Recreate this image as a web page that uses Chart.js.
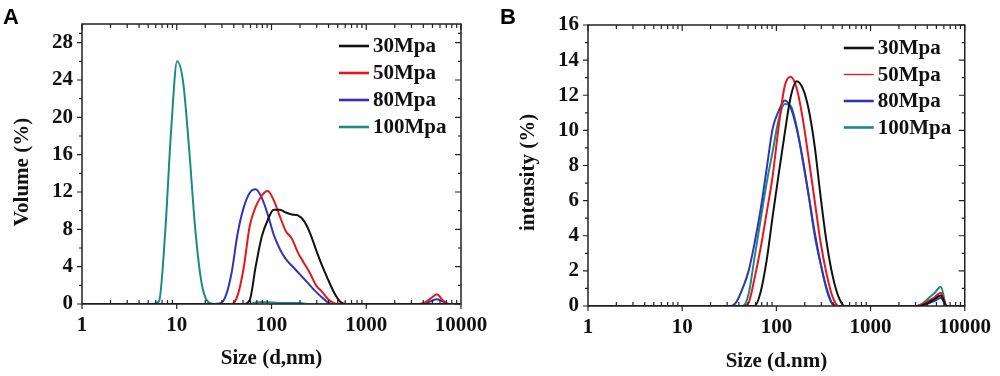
<!DOCTYPE html>
<html>
<head>
<meta charset="utf-8">
<script src="https://cdn.jsdelivr.net/npm/chart.js@4.4.0/dist/chart.umd.min.js"></script>
<style>
  html, body { margin: 0; padding: 0; background: #fff; }
  #wrap { position: relative; width: 1000px; height: 376px; background: #fff; }
  #wrap canvas { position: absolute; top: 0; }
  .etiqueta { position: absolute; top: 4px; font: bold 22px "Liberation Sans", Arial, sans-serif; color: #000; line-height: normal; }
</style>
</head>
<body>
<div id="wrap">
  <canvas id="panelA" width="500" height="376" style="left:0"></canvas>
  <canvas id="panelB" width="500" height="376" style="left:500px"></canvas>
  <div class="etiqueta" style="left:3px">A</div>
  <div class="etiqueta" style="left:500px">B</div>
</div>
<script>
// Canales de tamaño (d, nm) del equipo DLS
const sizes = [
  0.9649, 1.117, 1.294, 1.499, 1.736, 2.01, 2.328, 2.696, 3.122, 3.615,
  4.187, 4.849, 5.615, 6.503, 7.531, 8.721, 10.1, 11.7, 13.54, 15.69,
  18.17, 21.04, 24.36, 28.21, 32.67, 37.84, 43.82, 50.75, 58.77, 68.06,
  78.82, 91.28, 105.7, 122.4, 141.8, 164.2, 190.1, 220.2, 255.0, 295.3,
  342.0, 396.1, 458.7, 531.2, 615.1, 712.4, 825.0, 955.4, 1106, 1281,
  1484, 1718, 1990, 2305, 2669, 3091, 3580, 4145, 4801, 5560,
  6439, 7456, 8635, 10000
];

const seriesLabels = ['30Mpa', '50Mpa', '80Mpa', '100Mpa'];
const seriesColors = ['#111111', '#e8161b', '#3333b6', '#1b8b7f'];

// Panel A: volumen (%)
const volume30 = [
  0, 0, 0, 0, 0, 0, 0, 0, 0, 0,
  0, 0, 0, 0, 0, 0, 0, 0, 0, 0,
  0, 0, 0, 0, 0, 0, 0, 0, 0.4, 4.0,
  7.2, 9.0, 10.1, 10.1, 9.8, 9.6, 9.5, 8.9, 7.6, 5.8,
  4.1, 2.6, 1.2, 0.25, 0, 0, 0, 0, 0, 0,
  0, 0, 0, 0, 0, 0, 0, 0, 0, 0,
  0, 0, 0, 0
];
const volume50 = [
  0, 0, 0, 0, 0, 0, 0, 0, 0, 0,
  0, 0, 0, 0, 0, 0, 0, 0, 0, 0,
  0, 0, 0, 0, 0, 0, 0.9, 3.8, 8.3, 10.4,
  11.6, 12.1, 11.1, 9.4, 7.8, 7.0, 5.5, 4.4, 3.3, 2.0,
  1.3, 0.5, 0.1, 0, 0, 0, 0, 0, 0, 0,
  0, 0, 0, 0, 0, 0, 0, 0.15, 0.6, 1.05,
  0.4, 0, 0, 0
];
const volume80 = [
  0, 0, 0, 0, 0, 0, 0, 0, 0, 0,
  0, 0, 0, 0, 0, 0, 0, 0, 0, 0,
  0, 0, 0, 0.05, 0.8, 3.3, 7.5, 10.3, 11.9, 12.3,
  11.4, 9.6, 7.4, 5.9, 4.8, 4.1, 3.4, 2.7, 2.0, 1.3,
  0.7, 0.15, 0, 0, 0, 0, 0, 0, 0, 0,
  0, 0, 0, 0, 0, 0, 0, 0.05, 0.3, 0.5,
  0.25, 0, 0, 0
];
const volume100 = [
  0, 0, 0, 0, 0, 0, 0, 0, 0, 0,
  0, 0, 0, 0.3, 7.5, 18.6, 26.0, 23.7, 16.5, 8.0,
  2.4, 0.3, 0, 0, 0, 0, 0, 0, 0, 0.15,
  0.2, 0.2, 0.15, 0.1, 0.1, 0.1, 0.1, 0.05, 0, 0,
  0, 0, 0, 0, 0, 0, 0, 0, 0, 0,
  0, 0, 0, 0, 0, 0, 0, 0, 0, 0,
  0, 0, 0, 0
];

// Panel B: intensidad (%)
const intensity30 = [
  0, 0, 0, 0, 0, 0, 0, 0, 0, 0,
  0, 0, 0, 0, 0, 0, 0, 0, 0, 0,
  0, 0, 0, 0, 0, 0, 0, 0, 0, 0.8,
  2.6, 5.1, 7.5, 9.8, 11.9, 12.8, 12.4, 11.2, 9.1, 6.2,
  3.6, 1.7, 0.5, 0, 0, 0, 0, 0, 0, 0,
  0, 0, 0, 0, 0, 0, 0.05, 0.2, 0.4, 0.6,
  0, 0, 0, 0
];
const intensity50 = [
  0, 0, 0, 0, 0, 0, 0, 0, 0, 0,
  0, 0, 0, 0, 0, 0, 0, 0, 0, 0,
  0, 0, 0, 0, 0, 0, 0, 0.2, 1.6, 3.3,
  5.3, 7.4, 10.2, 12.5, 13.05, 12.4, 10.7, 8.4, 6.0, 3.6,
  1.8, 0.5, 0, 0, 0, 0, 0, 0, 0, 0,
  0, 0, 0, 0, 0, 0, 0.1, 0.3, 0.5, 0.75,
  0, 0, 0, 0
];
const intensity80 = [
  0, 0, 0, 0, 0, 0, 0, 0, 0, 0,
  0, 0, 0, 0, 0, 0, 0, 0, 0, 0,
  0, 0, 0, 0, 0, 0.25, 1.0, 2.0, 3.6, 5.5,
  7.8, 10.1, 11.1, 11.7, 11.3, 10.1, 8.4, 6.3, 4.2, 2.4,
  1.0, 0.1, 0, 0, 0, 0, 0, 0, 0, 0,
  0, 0, 0, 0, 0, 0, 0.05, 0.15, 0.3, 0.45,
  0, 0, 0, 0
];
const intensity100 = [
  0, 0, 0, 0, 0, 0, 0, 0, 0, 0,
  0, 0, 0, 0, 0, 0, 0, 0, 0, 0,
  0, 0, 0, 0, 0, 0, 0, 0.7, 2.8, 4.9,
  7.0, 8.8, 10.6, 11.5, 11.4, 10.2, 8.3, 6.3, 4.0, 2.4,
  0.9, 0.1, 0, 0, 0, 0, 0, 0, 0, 0,
  0, 0, 0, 0, 0, 0, 0.15, 0.45, 0.75, 1.1,
  0, 0, 0, 0
];

// Marcas de los ejes
const xTickValues = [1, 10, 100, 1000, 10000];
const yTicksVolume = [0, 4, 8, 12, 16, 20, 24, 28];
const yTicksIntensity = [0, 2, 4, 6, 8, 10, 12, 14, 16];

const FUENTE = '"Liberation Serif", "Times New Roman", serif';
const COLOR_TEXTO = '#111';
const TAM_FUENTE = 21;

// =============================================================
//      Plugin: marco cerrado con marcas mayores y menores
// =============================================================
const marcoEjes = {
  id: 'marcoEjes',
  afterDatasetsDraw(chart) {
    const { ctx, chartArea: a, scales: { x, y } } = chart;
    const yTicks = y.ticks.map(t => t.value);
    ctx.save();
    ctx.strokeStyle = '#222';
    ctx.lineWidth = 1.5;
    ctx.strokeRect(a.left, a.top, a.right - a.left, a.bottom - a.top);

    ctx.lineWidth = 1.2;
    ctx.beginPath();
    // eje Y: mayores y menores (punto medio)
    yTicks.forEach((v, i) => {
      const py = y.getPixelForValue(v);
      ctx.moveTo(a.left - 5, py); ctx.lineTo(a.left, py);
      ctx.moveTo(a.right, py); ctx.lineTo(a.right - 6, py);
      const siguiente = i < yTicks.length - 1 ? yTicks[i + 1] : y.max;
      if (siguiente > v) {
        const pm = y.getPixelForValue((v + siguiente) / 2);
        ctx.moveTo(a.left - 3, pm); ctx.lineTo(a.left, pm);
        ctx.moveTo(a.right, pm); ctx.lineTo(a.right - 3, pm);
      }
    });
    // eje X logarítmico
    xTickValues.forEach((d, i) => {
      const px = x.getPixelForValue(d);
      ctx.moveTo(px, a.bottom); ctx.lineTo(px, a.bottom + 5);
      ctx.moveTo(px, a.top); ctx.lineTo(px, a.top + 6);
      if (i < xTickValues.length - 1) {
        for (let k = 2; k <= 9; k++) {
          const pm = x.getPixelForValue(d * k);
          ctx.moveTo(pm, a.bottom); ctx.lineTo(pm, a.bottom - 4);
          ctx.moveTo(pm, a.top); ctx.lineTo(pm, a.top + 4);
        }
      }
    });
    ctx.stroke();
    ctx.restore();
  }
};

// =============================================================
//      Plugin: título del eje Y (algo por debajo del centro)
// =============================================================
const tituloEjeY = {
  id: 'tituloEjeY',
  afterDraw(chart, args, opts) {
    const { ctx, chartArea: a } = chart;
    ctx.save();
    ctx.font = 'bold ' + TAM_FUENTE + 'px ' + FUENTE;
    ctx.fillStyle = COLOR_TEXTO;
    ctx.textAlign = 'center';
    ctx.textBaseline = 'middle';
    ctx.translate(opts.x, (a.top + a.bottom) / 2 + opts.shift);
    ctx.rotate(-Math.PI / 2);
    ctx.fillText(opts.text, 0, 0);
    ctx.restore();
  }
};

// =============================================================
//      Plugin: leyenda dentro del área del gráfico
// =============================================================
const leyendaInterna = {
  id: 'leyendaInterna',
  afterDraw(chart, args, opts) {
    const { ctx, chartArea: a } = chart;
    ctx.save();
    ctx.font = 'bold ' + TAM_FUENTE + 'px ' + FUENTE;
    ctx.textBaseline = 'middle';
    chart.data.datasets.forEach((ds, i) => {
      const yy = a.top + opts.top + i * opts.gap;
      const x0 = a.right - opts.right;
      ctx.strokeStyle = ds.borderColor;
      ctx.lineWidth = opts.widths[i];
      ctx.beginPath();
      ctx.moveTo(x0, yy);
      ctx.lineTo(x0 + 30, yy);
      ctx.stroke();
      ctx.fillStyle = COLOR_TEXTO;
      ctx.fillText(ds.label, x0 + 34, yy + 1);
    });
    ctx.restore();
  }
};

function crearPanel(idCanvas, cfg) {
  const ctx = document.getElementById(idCanvas).getContext('2d');
  const fuente = { family: FUENTE, size: TAM_FUENTE, weight: 'bold' };

  const datasets = cfg.series.map((valores, i) => ({
    label: seriesLabels[i],
    data: sizes.map((s, j) => ({ x: s, y: valores[j] })),
    borderColor: seriesColors[i],
    backgroundColor: seriesColors[i],
    borderWidth: 2,
    pointRadius: 0,
    cubicInterpolationMode: 'monotone',
    fill: false
  }));

  return new Chart(ctx, {
    type: 'line',
    data: { datasets },
    plugins: [marcoEjes, tituloEjeY, leyendaInterna],
    options: {
      responsive: false,
      animation: false,
      devicePixelRatio: 1,
      layout: { padding: cfg.padding },
      plugins: {
        legend: { display: false },
        tooltip: { enabled: false },
        leyendaInterna: cfg.leyenda,
        tituloEjeY: cfg.tituloY
      },
      scales: {
        x: {
          type: 'logarithmic',
          min: 1,
          max: 10000,
          afterBuildTicks: s => { s.ticks = xTickValues.map(v => ({ value: v })); },
          afterFit: s => { s.height = cfg.altoX; },
          grid: { display: false, drawTicks: false },
          border: { display: false },
          ticks: {
            font: fuente, color: COLOR_TEXTO, padding: 9,
            maxRotation: 0, autoSkip: false,
            callback: v => String(v)
          },
          title: {
            display: true, text: cfg.tituloX, font: fuente, color: COLOR_TEXTO,
            padding: { top: 0, bottom: cfg.padTituloX }
          }
        },
        y: {
          type: 'linear',
          min: 0,
          max: cfg.yMax,
          afterBuildTicks: s => { s.ticks = cfg.yTicks.map(v => ({ value: v })); },
          afterFit: s => { s.width = cfg.anchoY; },
          grid: { display: false, drawTicks: false },
          border: { display: false },
          ticks: { font: fuente, color: COLOR_TEXTO, padding: 9 },
          title: { display: false }
        }
      }
    }
  });
}

crearPanel('panelA', {
  series: [volume30, volume50, volume80, volume100],
  yTicks: yTicksVolume,
  yMax: 30,
  tituloX: 'Size (d,nm)',
  tituloY: { text: 'Volume (%)', x: 23, shift: 8 },
  padding: { top: 24, right: 39, left: 0, bottom: 0 },
  anchoY: 82,
  altoX: 72,
  padTituloX: 5,
  leyenda: { top: 22, gap: 27, right: 122, widths: [2.6, 2.6, 2.6, 2.6] }
});

crearPanel('panelB', {
  series: [intensity30, intensity50, intensity80, intensity100],
  yTicks: yTicksIntensity,
  yMax: 16,
  tituloX: 'Size (d.nm)',
  tituloY: { text: 'intensity (%)', x: 29, shift: 7 },
  padding: { top: 25, right: 34, left: 0, bottom: 0 },
  anchoY: 88,
  altoX: 70,
  padTituloX: 2,
  leyenda: { top: 23, gap: 26.5, right: 121, widths: [2.6, 1.3, 2.6, 2.6] }
});
</script>
</body>
</html>
